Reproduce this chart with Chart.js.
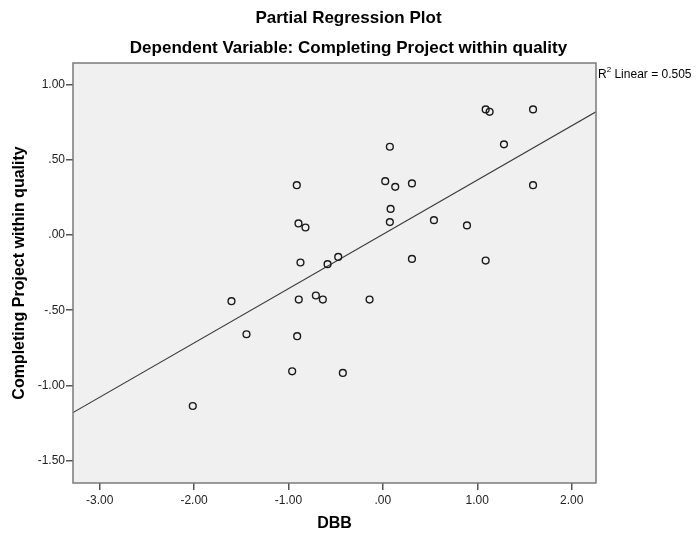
<!DOCTYPE html>
<html>
<head>
<meta charset="utf-8">
<script src="https://cdn.jsdelivr.net/npm/chart.js@4.4.1/dist/chart.umd.min.js"></script>
<style>
  html, body { margin: 0; padding: 0; background: #ffffff; }
  #wrap { width: 697px; height: 537px; }
</style>
</head>
<body>
<div id="wrap"><canvas id="c" width="697" height="537"></canvas></div>
<script>
// ---- data ----
const dbb = [-2.014, -1.604, -1.445, -0.961, -0.912, -0.908, -0.894, -0.820, -0.873, -0.891,
             -0.710, -0.636, -0.586, -0.473, -0.424, -0.141, 0.025, 0.074, 0.082, 0.074,
             0.131, 0.308, 0.308, 0.541, 0.891, 1.089, 1.131, 1.283, 1.089, 1.591, 1.591];
const quality = [-1.138, -0.440, -0.660, -0.907, 0.333, -0.673, 0.078, 0.051, -0.182, -0.429,
                 -0.402, -0.429, -0.193, -0.145, -0.918, -0.429, 0.360, 0.589, 0.175, 0.087,
                 0.322, 0.345, -0.158, 0.100, 0.065, 0.838, 0.822, 0.605, -0.169, 0.838, 0.333];
// fit line end points (at the plot edges)
const fitX = [-3.283, 2.258];
const fitY = [-1.182, 0.822];
// axis ticks
const xTickValues = [-3, -2, -1, 0, 1, 2];
const xTickLabels = ["-3.00", "-2.00", "-1.00", ".00", "1.00", "2.00"];
const yTickValues = [-1.5, -1, -0.5, 0, 0.5, 1];
const yTickLabels = ["-1.50", "-1.00", "-.50", ".00", ".50", "1.00"];
const rSquaredText = ["R", "2", " Linear = 0.505"];

const FONT = "'Liberation Sans', Arial, Helvetica, sans-serif";

function labelFor(values, labels, v) {
  for (let i = 0; i < values.length; i++) {
    if (Math.abs(values[i] - v) < 1e-6) return labels[i];
  }
  return "";
}

const plotBg = {
  id: 'plotBg',
  beforeDraw(chart) {
    const {ctx, chartArea: a} = chart;
    ctx.save();
    ctx.fillStyle = '#f0f0f0';
    ctx.fillRect(a.left, a.top, a.right - a.left, a.bottom - a.top);
    ctx.restore();
  },
  afterDraw(chart) {
    const {ctx, chartArea: a} = chart;
    ctx.save();
    ctx.strokeStyle = '#7a7a7a';
    ctx.lineWidth = 1.5;
    ctx.strokeRect(a.left, a.top, a.right - a.left, a.bottom - a.top);
    // R squared annotation
    ctx.fillStyle = '#000';
    ctx.textBaseline = 'alphabetic';
    ctx.textAlign = 'left';
    let x = a.right + 2;
    const y = a.top + 15;
    ctx.font = "12px " + FONT;
    ctx.fillText(rSquaredText[0], x, y);
    x += ctx.measureText(rSquaredText[0]).width;
    ctx.font = "8px " + FONT;
    ctx.fillText(rSquaredText[1], x, y - 6);
    x += ctx.measureText(rSquaredText[1]).width;
    ctx.font = "12px " + FONT;
    ctx.fillText(rSquaredText[2], x, y);
    ctx.restore();
  }
};

const points = dbb.map((x, i) => ({x: x, y: quality[i]}));
const fitLine = fitX.map((x, i) => ({x: x, y: fitY[i]}));

new Chart(document.getElementById('c'), {
  type: 'scatter',
  data: {
    datasets: [
      {
        label: 'Observed',
        data: points,
        pointRadius: 3.4,
        pointHoverRadius: 3.4,
        pointBorderWidth: 1.4,
        pointBorderColor: '#1a1a1a',
        pointBackgroundColor: 'rgba(0,0,0,0)',
        showLine: false
      },
      {
        label: 'Linear',
        data: fitLine,
        showLine: true,
        borderColor: '#3a3a3a',
        borderWidth: 1.1,
        pointRadius: 0,
        pointHoverRadius: 0,
        fill: false
      }
    ]
  },
  options: {
    responsive: false,
    animation: false,
    devicePixelRatio: 1,
    layout: { padding: 0 },
    plugins: {
      legend: { display: false },
      tooltip: { enabled: false },
      title: {
        display: true,
        text: 'Partial Regression Plot',
        color: '#000',
        font: { family: FONT, size: 17, weight: 'bold', lineHeight: 1.2 },
        padding: { top: 8, bottom: 4 }
      },
      subtitle: {
        display: true,
        text: 'Dependent Variable: Completing Project within quality',
        color: '#000',
        font: { family: FONT, size: 17, weight: 'bold', lineHeight: 1.2 },
        padding: { top: 5.4, bottom: 4.8 }
      }
    },
    scales: {
      x: {
        type: 'linear',
        position: 'bottom',
        min: -3.283,
        max: 2.258,
        afterFit(scale) { scale.height = 54; },
        afterBuildTicks(scale) { scale.ticks = xTickValues.map(v => ({value: v})); },
        ticks: {
          includeBounds: false,
          padding: 3,
          color: '#222',
          font: { family: FONT, size: 12 },
          callback: (v) => labelFor(xTickValues, xTickLabels, v)
        },
        grid: { display: true, drawOnChartArea: false, drawTicks: true, tickLength: 7, color: '#555', lineWidth: 1.5 },
        border: { display: false },
        title: {
          display: true,
          text: 'DBB',
          color: '#000',
          font: { family: FONT, size: 16, weight: 'bold', lineHeight: 1.2 },
          padding: { top: 0, bottom: 4 }
        }
      },
      y: {
        type: 'linear',
        position: 'left',
        min: -1.651,
        max: 1.147,
        afterFit(scale) { scale.width = 73; },
        afterBuildTicks(scale) { scale.ticks = yTickValues.map(v => ({value: v})); },
        ticks: {
          includeBounds: false,
          padding: 1,
          color: '#222',
          font: { family: FONT, size: 12 },
          callback: (v) => labelFor(yTickValues, yTickLabels, v)
        },
        grid: { display: true, drawOnChartArea: false, drawTicks: true, tickLength: 7, color: '#555', lineWidth: 1.5 },
        border: { display: false },
        title: {
          display: true,
          text: 'Completing Project within quality',
          color: '#000',
          font: { family: FONT, size: 16, weight: 'bold', lineHeight: 1.2 },
          padding: { top: 10, bottom: 0 }
        }
      },
      yRight: {
        type: 'linear',
        position: 'right',
        display: true,
        afterFit(scale) { scale.width = 101; },
        ticks: { display: false },
        grid: { display: false },
        border: { display: false }
      }
    }
  },
  plugins: [plotBg]
});
</script>
</body>
</html>
